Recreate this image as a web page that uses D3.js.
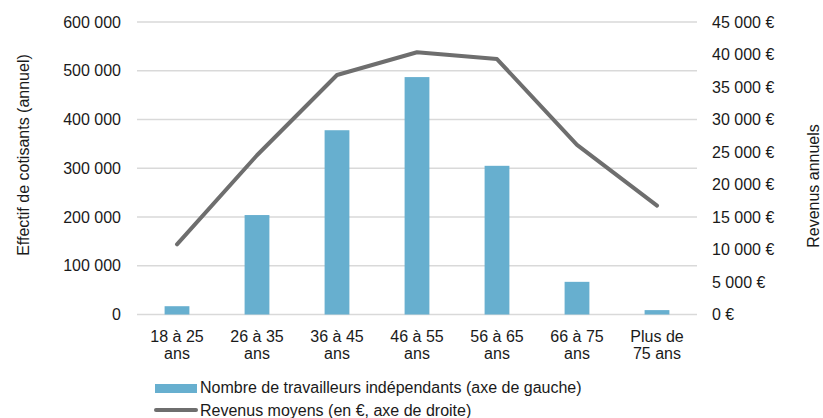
<!DOCTYPE html>
<html><head><meta charset="utf-8">
<script src="https://cdn.jsdelivr.net/npm/d3@7"></script>
<style>
html,body{margin:0;padding:0;background:#fff;}
text{font-family:"Liberation Sans",Arial,sans-serif;fill:#1a1a1a;}
</style></head>
<body>
<svg id="chart" width="823" height="418"></svg>
<script>
const categories = [["18 à 25","ans"],["26 à 35","ans"],["36 à 45","ans"],["46 à 55","ans"],["56 à 65","ans"],["66 à 75","ans"],["Plus de","75 ans"]];
const workers = [17000, 204000, 378000, 487000, 305000, 67000, 9000];
const revenues = [10800, 24500, 36850, 40350, 39300, 26100, 16750];
const leftTicks = [0,100000,200000,300000,400000,500000,600000];
const rightTicks = [0,5000,10000,15000,20000,25000,30000,35000,40000,45000];
const legendLabels = ["Nombre de travailleurs indépendants (axe de gauche)","Revenus moyens (en €, axe de droite)"];
const leftTitle = "Effectif de cotisants (annuel)";
const rightTitle = "Revenus annuels";

const loc = d3.formatLocale({decimal:",", thousands:" ", grouping:[3], currency:[""," €"]});
const fmtL = loc.format(",d");
const fmtR = d => loc.format(",d")(d) + " €";

const svg = d3.select("#chart");
const m = {left:137, right:697, top:22, bottom:314.5};
const x = d3.scaleBand().domain(categories.map((c,i)=>i)).range([m.left,m.right]).paddingInner(0.69).paddingOuter(0.345);
const xc = i => x(i) + x.bandwidth()/2;
const yL = d3.scaleLinear().domain([0,600000]).range([m.bottom,m.top]);
const yR = d3.scaleLinear().domain([0,45000]).range([m.bottom,m.top]);

// gridlines
svg.append("g").selectAll("line").data(leftTicks).join("line")
  .attr("x1",m.left).attr("x2",m.right)
  .attr("y1",d=>yL(d)).attr("y2",d=>yL(d))
  .attr("stroke","#d9d9d9").attr("stroke-width",1.3);

// left axis
const gL = svg.append("g").attr("transform",`translate(${m.left},0)`)
  .call(d3.axisLeft(yL).tickValues(leftTicks).tickFormat(fmtL).tickSize(0).tickPadding(16));
gL.select(".domain").remove();
gL.selectAll("text").attr("font-size",16).attr("font-family","Liberation Sans, Arial, sans-serif").attr("fill","#1a1a1a");

// right axis
const gR = svg.append("g").attr("transform",`translate(${m.right},0)`)
  .call(d3.axisRight(yR).tickValues(rightTicks).tickFormat(fmtR).tickSize(0).tickPadding(15));
gR.select(".domain").remove();
gR.selectAll("text").attr("font-size",16).attr("font-family","Liberation Sans, Arial, sans-serif").attr("fill","#1a1a1a");

// bars
svg.append("g").selectAll("rect").data(workers).join("rect")
  .attr("x",(d,i)=>x(i)).attr("width",x.bandwidth())
  .attr("y",d=>yL(d)).attr("height",d=>yL(0)-yL(d))
  .attr("fill","#67afcf");

// line
svg.append("path").datum(revenues)
  .attr("d", d3.line().x((d,i)=>xc(i)).y(d=>yR(d)))
  .attr("fill","none").attr("stroke","#6e6e6e").attr("stroke-width",4)
  .attr("stroke-linejoin","round").attr("stroke-linecap","round");

// category labels
const cl = svg.append("g").selectAll("text").data(categories).join("text")
  .attr("text-anchor","middle").attr("font-size",16)
  .attr("x",(d,i)=>xc(i)).attr("y",m.bottom+27.5);
cl.selectAll("tspan").data(d=>d).join("tspan")
  .attr("x",function(){return d3.select(this.parentNode).attr("x");})
  .attr("dy",(d,i)=>i===0?0:16.5).text(d=>d);

// axis titles
svg.append("text").attr("font-size",16).attr("text-anchor","middle")
  .attr("transform","translate(29,155) rotate(-90)").text(leftTitle);
svg.append("text").attr("font-size",16).attr("text-anchor","middle")
  .attr("transform","translate(819,186) rotate(-90)").text(rightTitle);

// legend
const lg = svg.append("g");
lg.append("rect").attr("x",155).attr("y",384).attr("width",42).attr("height",9).attr("fill","#67afcf");
lg.append("text").attr("x",200).attr("y",393).attr("font-size",16).text(legendLabels[0]);
lg.append("line").attr("x1",156).attr("x2",196).attr("y1",410).attr("y2",410)
  .attr("stroke","#6e6e6e").attr("stroke-width",4).attr("stroke-linecap","round");
lg.append("text").attr("x",200).attr("y",416).attr("font-size",16).text(legendLabels[1]);
</script>
</body></html>
